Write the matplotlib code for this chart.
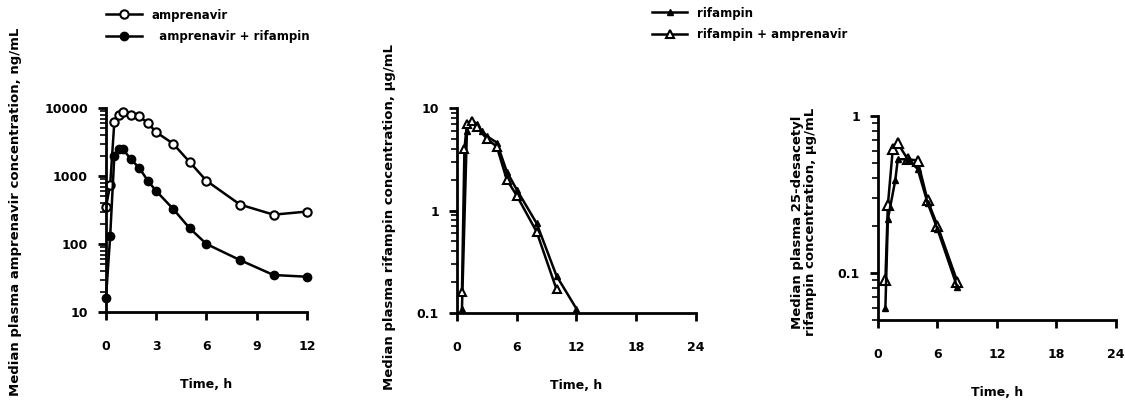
import numpy as np
import matplotlib
matplotlib.use('Agg')
import matplotlib.pyplot as plt
from matplotlib.ticker import LogLocator, FuncFormatter, NullFormatter

plt.rcParams['font.family'] = ['DejaVu Sans']
plt.rcParams['font.weight'] = 'bold'

# 암프레나비르 (ng/mL)
amp_t = [0, 0.25, 0.5, 0.75, 1, 1.5, 2, 2.5, 3, 4, 5, 6, 8, 10, 12]
amp_alone = [350, 740, 6300, 8000, 8700, 8000, 7500, 6000, 4400, 3000, 1600, 850, 380, 270, 300]
amp_rif = [16, 130, 2000, 2500, 2500, 1750, 1300, 850, 600, 330, 170, 100, 58, 35, 33]

# 리팜핀 (µg/mL)
rif_t = [0.5, 1, 1.5, 2, 2.5, 3, 4, 5, 6, 8, 10, 12]
rif_alone = [0.11, 6.0, 7.5, 7.0, 6.0, 5.3, 4.6, 2.4, 1.6, 0.75, 0.23, 0.11]
rif_amp_t = [0.5, 0.75, 1, 1.5, 2, 3, 4, 5, 6, 8, 10]
rif_amp = [0.16, 4.0, 7.0, 7.5, 6.5, 5.0, 4.2, 2.0, 1.4, 0.62, 0.17]

# 25-desacetyl rifampin (µg/mL)
des_t = [0.75, 1, 1.5, 2, 3, 4, 5, 6, 8]
des_alone = [0.09, 0.27, 0.62, 0.67, 0.53, 0.52, 0.29, 0.2, 0.088]
des_amp_t = [0.75, 1, 1.75, 2, 3, 4, 5, 6, 8]
des_amp = [0.06, 0.22, 0.39, 0.53, 0.53, 0.46, 0.28, 0.19, 0.081]

fig = plt.figure(figsize=(11.25, 4), dpi=100)
ax1 = fig.add_axes([0.0942, 0.22, 0.1787, 0.51])
ax2 = fig.add_axes([0.4062, 0.2175, 0.2124, 0.5125])
ax3 = fig.add_axes([0.7804, 0.20, 0.2116, 0.51])

fmt = FuncFormatter(lambda v, p: '%g' % v)

def style(ax, xmax, xstep, ylo, yhi):
    ax.set_yscale('log')
    ax.set_xlim(0, xmax)
    ax.set_ylim(ylo, yhi)
    ax.set_xticks(np.arange(0, xmax + 0.1, xstep))
    ax.yaxis.set_major_locator(LogLocator(base=10))
    ax.yaxis.set_minor_locator(LogLocator(base=10, subs=np.arange(2, 10)))
    ax.yaxis.set_major_formatter(fmt)
    ax.yaxis.set_minor_formatter(NullFormatter())
    for s in ['top', 'right']:
        ax.spines[s].set_visible(False)
    for s in ['left', 'bottom']:
        ax.spines[s].set_linewidth(2)
    ax.tick_params(which='major', length=6, width=2, labelsize=9)
    ax.tick_params(axis='x', pad=14)
    ax.tick_params(axis='y', pad=7)
    ax.tick_params(which='minor', length=4, width=1.2)
    for lab in ax.get_xticklabels() + ax.get_yticklabels():
        lab.set_fontweight('bold')
    ax.set_xlabel('Time, h', fontsize=9, fontweight='bold', labelpad=18)

kw = dict(color='black', lw=1.8, clip_on=False)

ax1.plot(amp_t, amp_alone, marker='o', mfc='white', mec='black', ms=6, mew=1.5,
         label='amprenavir', **kw)
ax1.plot(amp_t, amp_rif, marker='o', mfc='black', ms=6,
         label='  amprenavir + rifampin', **kw)
style(ax1, 12, 3, 10, 10000)

ax2.plot(rif_t, rif_alone, marker='^', mfc='black', ms=5,
         label='rifampin', **kw)
ax2.plot(rif_amp_t, rif_amp, marker='^', mfc='white', mec='black', ms=6, mew=1.5,
         label='rifampin + amprenavir', **kw)
style(ax2, 24, 6, 0.1, 10)

ax3.plot(des_t, des_alone, marker='^', mfc='white', mec='black', ms=7, mew=1.5, **kw)
ax3.plot(des_amp_t, des_amp, marker='^', mfc='black', ms=5, **kw)
style(ax3, 24, 6, 0.05, 1)

ax1.legend(loc='upper left', bbox_to_anchor=(0.085, 1.005), bbox_transform=fig.transFigure,
           frameon=False, handlelength=3, labelspacing=0.7,
           prop={'weight': 'bold', 'size': 8.5})
ax2.legend(loc='upper left', bbox_to_anchor=(0.57, 1.01), bbox_transform=fig.transFigure,
           frameon=False, handlelength=3, labelspacing=0.7,
           prop={'weight': 'bold', 'size': 8.5})

fig.text(0.014, 1 - 212 / 400, 'Median plasma amprenavir concentration, ng/mL',
         rotation=90, ha='center', va='center', fontsize=9.5, fontweight='bold')
fig.text(390 / 1125, 1 - 217 / 400, 'Median plasma rifampin concentration, µg/mL',
         rotation=90, ha='center', va='center', fontsize=9.5, fontweight='bold')
fig.text(804 / 1125, 1 - 222 / 400, 'Median plasma 25-desacetyl\nrifampin concentration, µg/mL',
         rotation=90, ha='center', va='center', fontsize=9.5, fontweight='bold',
         multialignment='center', linespacing=1.0)

fig.savefig('out.png', dpi=100, facecolor='white')
